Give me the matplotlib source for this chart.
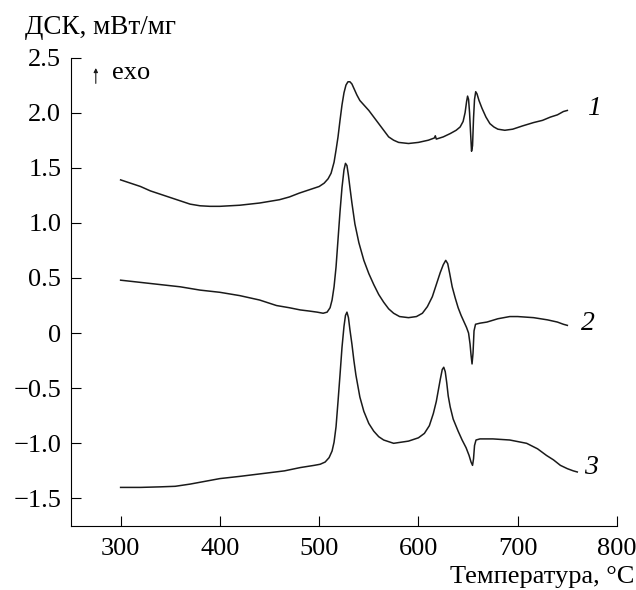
# ДСК-кривые трех образцов, сдвинутые по вертикали, подписи 1-3 справа
import matplotlib
matplotlib.use("Agg")
import matplotlib.pyplot as plt
from matplotlib.ticker import FuncFormatter

plt.rcParams.update({
    "font.family": "Liberation Serif",
    "font.size": 19,
    "xtick.direction": "in",
    "ytick.direction": "in",
    "xtick.major.size": 7,
    "ytick.major.size": 7,
})

# кривая 1
t1 = [300, 310, 320, 330, 340, 350, 360, 370, 380, 390, 400, 410, 420, 430, 440, 450, 460,
      470, 480, 490, 500, 505, 509, 512, 515, 517, 519, 521, 523, 525, 527, 529, 531, 533,
      535, 538, 541, 544, 547, 550, 555, 560, 565, 570, 575, 580, 590, 600, 610, 616, 617,
      618, 625, 632, 638, 642, 645, 647, 648.5, 649.5, 650.5, 651.5, 652.5, 653.5, 654.5,
      655.5, 656.5, 657.7, 659, 661, 664, 668, 672, 676, 680, 687, 695, 705, 716, 725, 733,
      740, 746, 750]
dsc1 = [1.39, 1.36, 1.33, 1.29, 1.26, 1.23, 1.20, 1.17, 1.155, 1.15, 1.15, 1.155, 1.16, 1.17,
        1.18, 1.195, 1.21, 1.235, 1.27, 1.30, 1.33, 1.36, 1.40, 1.45, 1.55, 1.66, 1.78, 1.93,
        2.07, 2.18, 2.25, 2.28, 2.28, 2.26, 2.22, 2.16, 2.11, 2.08, 2.05, 2.02, 1.96, 1.90,
        1.84, 1.78, 1.75, 1.73, 1.72, 1.73, 1.75, 1.77, 1.79, 1.76, 1.78, 1.81, 1.84, 1.87,
        1.92, 2.00, 2.10, 2.15, 2.12, 2.00, 1.82, 1.65, 1.70, 1.95, 2.12, 2.19, 2.17, 2.11,
        2.04, 1.96, 1.90, 1.87, 1.85, 1.84, 1.85, 1.88, 1.91, 1.93, 1.96, 1.98, 2.01, 2.02]

# кривая 2
t2 = [300, 320, 340, 360, 380, 400, 420, 440, 457, 470, 481, 490, 498, 504, 508, 511, 513,
      515, 517, 519, 521, 523, 525, 526.5, 528, 529.5, 531, 533, 536, 540, 545, 550, 555,
      560, 565, 570, 575, 581, 590, 598, 604, 609, 614, 618, 622, 625, 627.5, 629.5, 631.5,
      634, 637, 640, 643, 646, 648.5, 650.5, 652, 653, 654, 655, 656, 657.5, 662, 669, 680,
      692, 700, 716, 730, 740, 746, 750]
dsc2 = [0.48, 0.46, 0.44, 0.42, 0.39, 0.37, 0.34, 0.30, 0.25, 0.23, 0.21, 0.20, 0.19, 0.18,
        0.19, 0.23, 0.30, 0.42, 0.60, 0.85, 1.10, 1.32, 1.48, 1.54, 1.52, 1.43, 1.32, 1.18,
        0.99, 0.82, 0.66, 0.54, 0.44, 0.35, 0.28, 0.22, 0.18, 0.15, 0.14, 0.15, 0.18, 0.24,
        0.33, 0.44, 0.55, 0.62, 0.66, 0.63, 0.54, 0.42, 0.32, 0.23, 0.16, 0.10, 0.05, 0.00,
        -0.10, -0.20, -0.28, -0.18, 0.02, 0.08, 0.09, 0.10, 0.13, 0.15, 0.15, 0.14, 0.12,
        0.10, 0.08, 0.07]

# кривая 3
t3 = [300, 320, 340, 355, 370, 385, 400, 420, 447, 465, 481, 495, 501, 506, 510, 513, 515,
      517, 519, 521, 523, 525, 526.5, 528, 529.5, 531, 533, 535, 537, 541, 545, 550, 555,
      560, 565, 575, 590, 600, 606, 611, 615, 618, 620, 622, 624, 625.5, 627, 628.5, 630,
      632, 635, 640, 644, 648, 651, 653, 654.5, 655.5, 656.5, 658, 662, 675, 692, 709, 720,
      729, 736, 743, 750, 756, 760]
dsc3 = [-1.40, -1.40, -1.395, -1.39, -1.37, -1.345, -1.32, -1.30, -1.27, -1.25, -1.22, -1.20,
        -1.19, -1.17, -1.13, -1.07, -0.99, -0.85, -0.62, -0.38, -0.13, 0.06, 0.16, 0.19,
        0.14, 0.03, -0.10, -0.25, -0.38, -0.58, -0.71, -0.82, -0.89, -0.94, -0.97, -1.00,
        -0.98, -0.95, -0.91, -0.84, -0.73, -0.62, -0.52, -0.42, -0.33, -0.31, -0.35, -0.45,
        -0.57, -0.67, -0.78, -0.89, -0.97, -1.04, -1.11, -1.17, -1.20, -1.14, -1.02, -0.97,
        -0.96, -0.96, -0.97, -1.00, -1.05, -1.11, -1.15, -1.20, -1.23, -1.25, -1.26]

nomera = ["1", "2", "3"]
pozicii = [(770, 2.04), (764, 0.09), (767, -1.22)]

fig = plt.figure(figsize=(6.36, 5.9), dpi=100)
ax = fig.add_axes([0.1116, 0.1085, 0.8585, 0.794])

for t, d in [(t1, dsc1), (t2, dsc2), (t3, dsc3)]:
    ax.plot(t, d, color="#1a1a1a", linewidth=1.1, solid_joinstyle="round")

for n, (x, y) in zip(nomera, pozicii):
    ax.text(x, y, n, style="italic", ha="left", va="center", fontsize=20)

# стрелка "exo"
ax.annotate("", xy=(275, 2.43), xytext=(275, 2.24),
            arrowprops=dict(arrowstyle="-|>", color="#1a1a1a", lw=0.8,
                            mutation_scale=6))
ax.text(291, 2.36, "exo", ha="left", va="center", fontsize=19)

ax.set_xlim(250, 800)
ax.set_ylim(-1.75, 2.5)
ax.set_xticks([300, 400, 500, 600, 700, 800])
ax.set_yticks([-1.5, -1.0, -0.5, 0, 0.5, 1.0, 1.5, 2.0, 2.5])


def fmt(v, pos):
    if abs(v) < 1e-9:
        return "0"
    return f"{v:.1f}".replace("-", "\u2212")


ax.yaxis.set_major_formatter(FuncFormatter(fmt))
ax.spines["top"].set_visible(False)
ax.spines["right"].set_visible(False)
ax.tick_params(axis="y", pad=7)
ax.tick_params(axis="x", pad=9)

fig.text(0.04, 1 - 28 / 590, "ДСК, мВт/мг", ha="left", va="center", fontsize=19.5)
fig.text(0.997, 1 - 577 / 590, "Температура, °C", ha="right", va="center", fontsize=19)

fig.savefig("out.png", dpi=100)
